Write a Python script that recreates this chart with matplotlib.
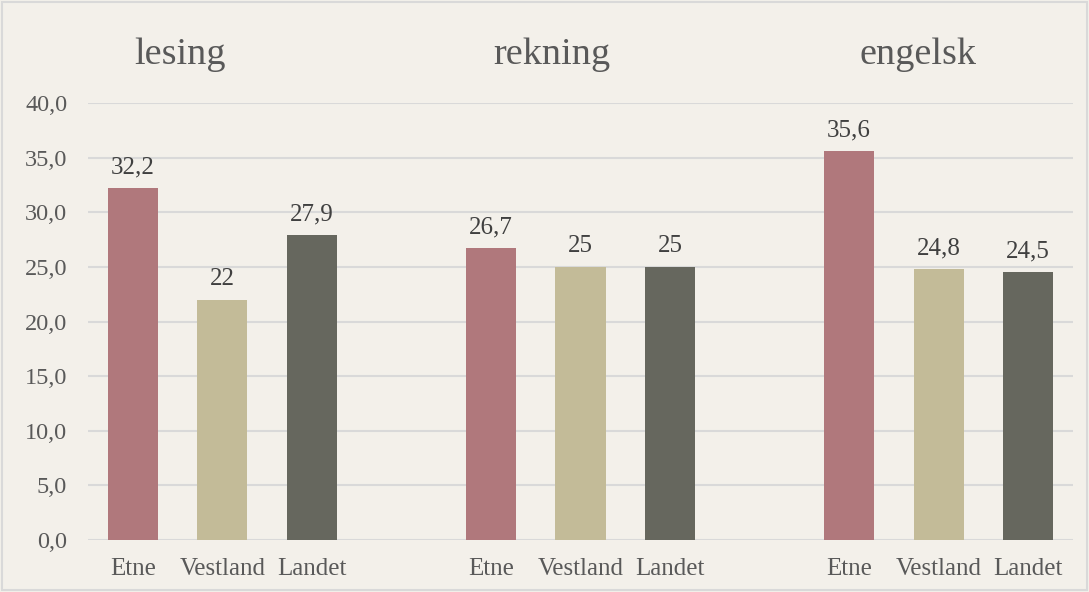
import numpy as np
import matplotlib.pyplot as plt
from matplotlib.patches import Rectangle

# data
subjects = ["lesing", "rekning", "engelsk"]
areas = ["Etne", "Vestland", "Landet"]
lesing = [32.2, 22.0, 27.9]
rekning = [26.7, 25.0, 25.0]
engelsk = [35.6, 24.8, 24.5]
yticks = [0, 5, 10, 15, 20, 25, 30, 35, 40]

bar_colors = ["#b0787c", "#c3bb98", "#66675e"]
bg = "#f3f0ea"
grid_col = "#d9d9d9"

plt.rcParams['font.family'] = ['Liberation Serif', 'DejaVu Serif']

fig = plt.figure(figsize=(10.89, 5.92), dpi=100, facecolor=bg)
W, H = 1089, 592
ax = fig.add_axes([88 / W, (H - 540) / H, (1073 - 88) / W, (540 - 103) / H])
ax.set_facecolor(bg)

# 3 groups of 3 bars with one empty slot between groups
series = [lesing, rekning, engelsk]
xs, vals, cols, labels = [], [], [], []
for g, values in enumerate(series):
    for i, v in enumerate(values):
        xs.append(g * 4 + i)
        vals.append(v)
        cols.append(bar_colors[i])
        labels.append(areas[i])

bars = ax.bar(xs, vals, width=0.56, color=cols, zorder=3)
for x, v in zip(xs, vals):
    ax.annotate(f"{v:g}".replace('.', ','), (x, v), xytext=(0, 7),
                textcoords="offset points", ha="center", va="bottom",
                fontsize=18, color="#404040")

ax.set_xlim(-0.5, 10.5)
ax.set_ylim(0, 40)
ax.set_yticks(yticks)
ax.set_yticklabels([f"{t:.1f}".replace('.', ',') for t in yticks])
ax.set_xticks(xs)
ax.set_xticklabels(labels)
ax.tick_params(axis="y", length=0, pad=15, labelsize=17.5, labelcolor="#595959")
ax.tick_params(axis="x", length=0, pad=13, labelsize=18, labelcolor="#595959")
ax.grid(axis="y", color=grid_col, linewidth=1.5, zorder=0)
for s in ax.spines.values():
    s.set_visible(False)

# group titles above the plot area
title_x = [0.53, 4.68, 8.77]
for tx, name in zip(title_x, subjects):
    ax.text(tx, 44.4, name, ha="center", va="center", fontsize=27.5,
            color="#595959", clip_on=False)

fig.patches.append(Rectangle((2 / W, 2 / H), 1 - 4 / W, 1 - 4 / H,
                             transform=fig.transFigure, fill=False,
                             edgecolor=grid_col, linewidth=1.5))

fig.savefig("out.png", dpi=100, facecolor=bg)
